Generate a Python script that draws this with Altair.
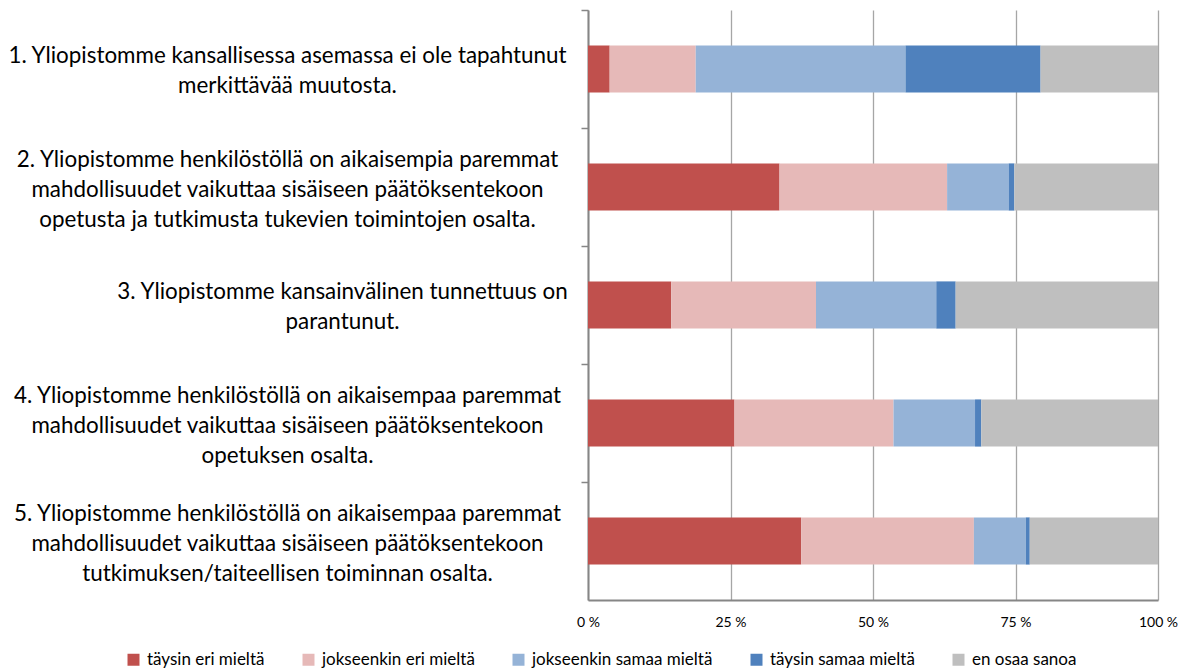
import altair as alt
import pandas as pd

# Category labels (each a list of text lines)
categories = [
    ["1. Yliopistomme kansallisessa asemassa ei ole tapahtunut", "merkittävää muutosta."],
    ["2. Yliopistomme henkilöstöllä on aikaisempia paremmat",
     "mahdollisuudet vaikuttaa sisäiseen päätöksentekoon",
     "opetusta ja tutkimusta tukevien toimintojen osalta."],
    ["3. Yliopistomme kansainvälinen tunnettuus on", "parantunut."],
    ["4. Yliopistomme henkilöstöllä on aikaisempaa paremmat",
     "mahdollisuudet vaikuttaa sisäiseen päätöksentekoon",
     "opetuksen osalta."],
    ["5. Yliopistomme henkilöstöllä on aikaisempaa paremmat",
     "mahdollisuudet vaikuttaa sisäiseen päätöksentekoon",
     "tutkimuksen/taiteellisen toiminnan osalta."],
]

series = ["täysin eri mieltä", "jokseenkin eri mieltä", "jokseenkin samaa mieltä",
          "täysin samaa mieltä", "en osaa sanoa"]
colors = ["#C0504D", "#E6B9B8", "#95B3D7", "#4F81BD", "#BFBFBF"]

taysin_eri = [3.8, 33.6, 14.6, 25.7, 37.4]
jokseenkin_eri = [15.1, 29.4, 25.4, 27.9, 30.3]
jokseenkin_samaa = [36.8, 10.8, 21.1, 14.3, 9.1]
taysin_samaa = [23.7, 1.0, 3.4, 1.1, 0.7]
en_osaa = [20.6, 25.2, 35.5, 31.0, 22.5]

x_ticks = [0, 25, 50, 75, 100]

values = [taysin_eri, jokseenkin_eri, jokseenkin_samaa, taysin_samaa, en_osaa]
labels = ["|".join(c) for c in categories]
rows = []
for i, lab in enumerate(labels):
    for j, s in enumerate(series):
        rows.append({"label": lab, "series": s, "value": values[j][i], "order": j})
df = pd.DataFrame(rows)

FONT = "Lato"
AX = "#868686"

chart = alt.Chart(df).mark_bar().encode(
    x=alt.X("value:Q", stack="zero", scale=alt.Scale(domain=[0, 100]),
            axis=alt.Axis(values=x_ticks, labelExpr="datum.value + ' %'", title=None,
                          ticks=False, labelPadding=15, labelFlush=False,
                          grid=True, gridColor="#a6a6a6",
                          gridWidth=1.3, domainColor=AX, domainWidth=2,
                          labelFontSize=14, labelFont=FONT, labelColor="#000000")),
    y=alt.Y("label:N", sort=labels,
            scale=alt.Scale(paddingInner=0.6, paddingOuter=0.3),
            axis=alt.Axis(title=None, labelExpr="split(datum.label, '|')",
                          labelAlign="center",
                          labelPadding={"condition": {"test": "indexof(datum.label, '3.') == 0",
                                                      "value": 239},
                                        "value": 294},
                          labelOffset={"condition": {"test": "length(split(datum.label, '|')) == 3",
                                                     "value": 31},
                                       "value": 45},
                          labelLimit=700, labelOverlap=False, labelBound=False,
                          tickOffset=-59, tickSize=7, tickColor=AX, tickWidth=1.5,
                          domainColor=AX, domainWidth=2,
                          labelFontSize=22.4, labelLineHeight=30, labelFont=FONT,
                          labelColor="#000000", grid=False)),
    color=alt.Color("series:N", sort=series,
                    scale=alt.Scale(domain=series, range=colors),
                    legend=alt.Legend(title=None, orient="none", direction="horizontal",
                                      legendX=-463, legendY=641,
                                      symbolType="square", symbolSize=144,
                                      symbolStrokeWidth=0, labelFontSize=17,
                                      labelLimit=400,
                                      labelFont=FONT, labelOffset=5, columnPadding=35,
                                      labelColor="#000000")),
    order=alt.Order("order:Q"),
).properties(
    width=570, height=590,
    autosize=alt.AutoSizeParams(type="none"),
    padding={"left": 580, "top": 2, "right": 23, "bottom": 68},
).configure_view(stroke=None)

chart.save("out.html", embed_options={"renderer": "svg", "actions": False})
